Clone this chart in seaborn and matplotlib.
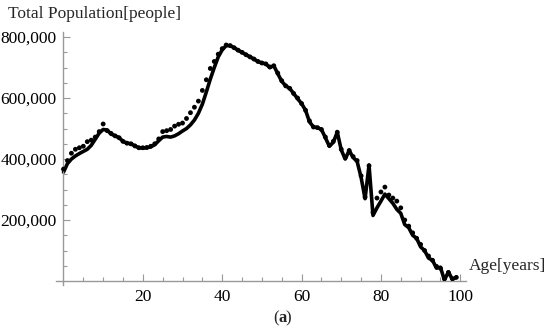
import numpy as np
import pandas as pd
import seaborn as sns
import matplotlib
matplotlib.use("Agg")
import matplotlib.pyplot as plt
from matplotlib.ticker import FuncFormatter, FixedLocator

ages = list(range(100))

# model curve (solid line), thousands of people
model_k = [357, 385, 400, 410, 418, 425, 432, 445, 465, 485,
           497, 495, 482, 476, 470, 458, 452, 450, 443, 437,
           436, 437, 440, 447, 460, 472, 474, 472, 476, 483,
           492, 500, 512, 528, 550, 580, 620, 662, 700, 735,
           758, 772, 772, 765, 757, 750, 742, 735, 728, 720,
           715, 712, 700, 706, 680, 655, 640, 632, 615, 598,
           582, 560, 522, 505, 503, 497, 470, 442, 455, 488,
           430, 400, 428, 405, 392, 340, 270, 380, 215, 240,
           262, 285, 270, 255, 235, 222, 185, 175, 150, 140,
           112, 100, 75, 68, 42, 45, 3, 30, 5, 12]

# census data (dots), thousands of people
data_k = [367, 395, 419, 432, 437, 442, 457, 462, 472, 490,
          515, 493, 484, 476, 470, 458, 452, 450, 443, 437,
          437, 438, 442, 450, 466, 490, 493, 497, 508, 514,
          518, 533, 552, 570, 590, 625, 660, 697, 720, 744,
          762, 774, 772, 765, 757, 750, 742, 735, 728, 720,
          715, 712, 702, 706, 682, 657, 640, 632, 615, 600,
          582, 560, 525, 505, 503, 497, 472, 445, 458, 488,
          432, 405, 428, 408, 395, 345, 275, 378, 225, 272,
          292, 308, 282, 272, 262, 240, 200, 180, 158, 140,
          120, 100, 82, 68, 48, 42, 8, 28, 8, 12]

df = pd.DataFrame({"age": ages,
                   "model": [v * 1000 for v in model_k],
                   "data": [v * 1000 for v in data_k]})

sns.set_theme(style="white")
plt.rcParams["font.family"] = ["Liberation Serif", "DejaVu Serif"]

fig = plt.figure(figsize=(5.5, 3.34), dpi=100)
ax = fig.add_axes([0.101, 0.1477, 0.746, 0.755])

sns.scatterplot(data=df, x="age", y="data", ax=ax, color="black", s=12,
                edgecolor="none", zorder=3)
sns.lineplot(data=df, x="age", y="model", ax=ax, color="black", lw=2.6,
             zorder=2)

ax.set_xlim(-2, 101.4)
ax.set_ylim(-12000, 815000)
ax.spines["left"].set_position(("data", 0))
ax.spines["bottom"].set_position(("data", 0))
for s in ["top", "right"]:
    ax.spines[s].set_visible(False)
for s in ["left", "bottom"]:
    ax.spines[s].set_color("#999999")
    ax.spines[s].set_linewidth(1.0)

ax.xaxis.set_major_locator(FixedLocator([20, 40, 60, 80, 100]))
ax.xaxis.set_minor_locator(FixedLocator([v for v in range(5, 101, 5) if v % 20]))
ax.yaxis.set_major_locator(FixedLocator([200000, 400000, 600000, 800000]))
ax.yaxis.set_minor_locator(FixedLocator([v for v in range(50000, 800001, 50000) if v % 200000]))
ax.yaxis.set_major_formatter(FuncFormatter(lambda v, p: f"{int(v):,}"))
ax.xaxis.set_major_formatter(FuncFormatter(lambda v, p: f"{int(v)}"))

ax.tick_params(axis="x", which="major", direction="in", length=5, width=0.8,
               color="#999999", labelsize=12.5, pad=6, labelcolor="black")
ax.tick_params(axis="x", which="minor", direction="in", length=3, width=0.8,
               color="#999999")
ax.tick_params(axis="y", which="major", direction="in", length=5, width=0.8,
               color="#999999", labelsize=12.5, pad=5, labelcolor="black")
ax.tick_params(axis="y", which="minor", direction="in", length=3, width=0.8,
               color="#999999")
ax.tick_params(bottom=True, left=True, which="both")

ax.set_xlabel("")
ax.set_ylabel("")
fig.text(0.015, 0.958, "Total Population[people]", fontsize=12.5, ha="left",
         va="center")
fig.text(0.853, 0.205, "Age[years]", fontsize=12.5, ha="left", va="center")
fig.text(0.507, 0.048, "(", fontsize=12, ha="right", va="center")
fig.text(0.507, 0.048, "a", fontsize=12, ha="left", va="center",
         fontweight="bold")
fig.text(0.5195, 0.048, ")", fontsize=12, ha="left", va="center")

fig.savefig("out.png", dpi=100)
